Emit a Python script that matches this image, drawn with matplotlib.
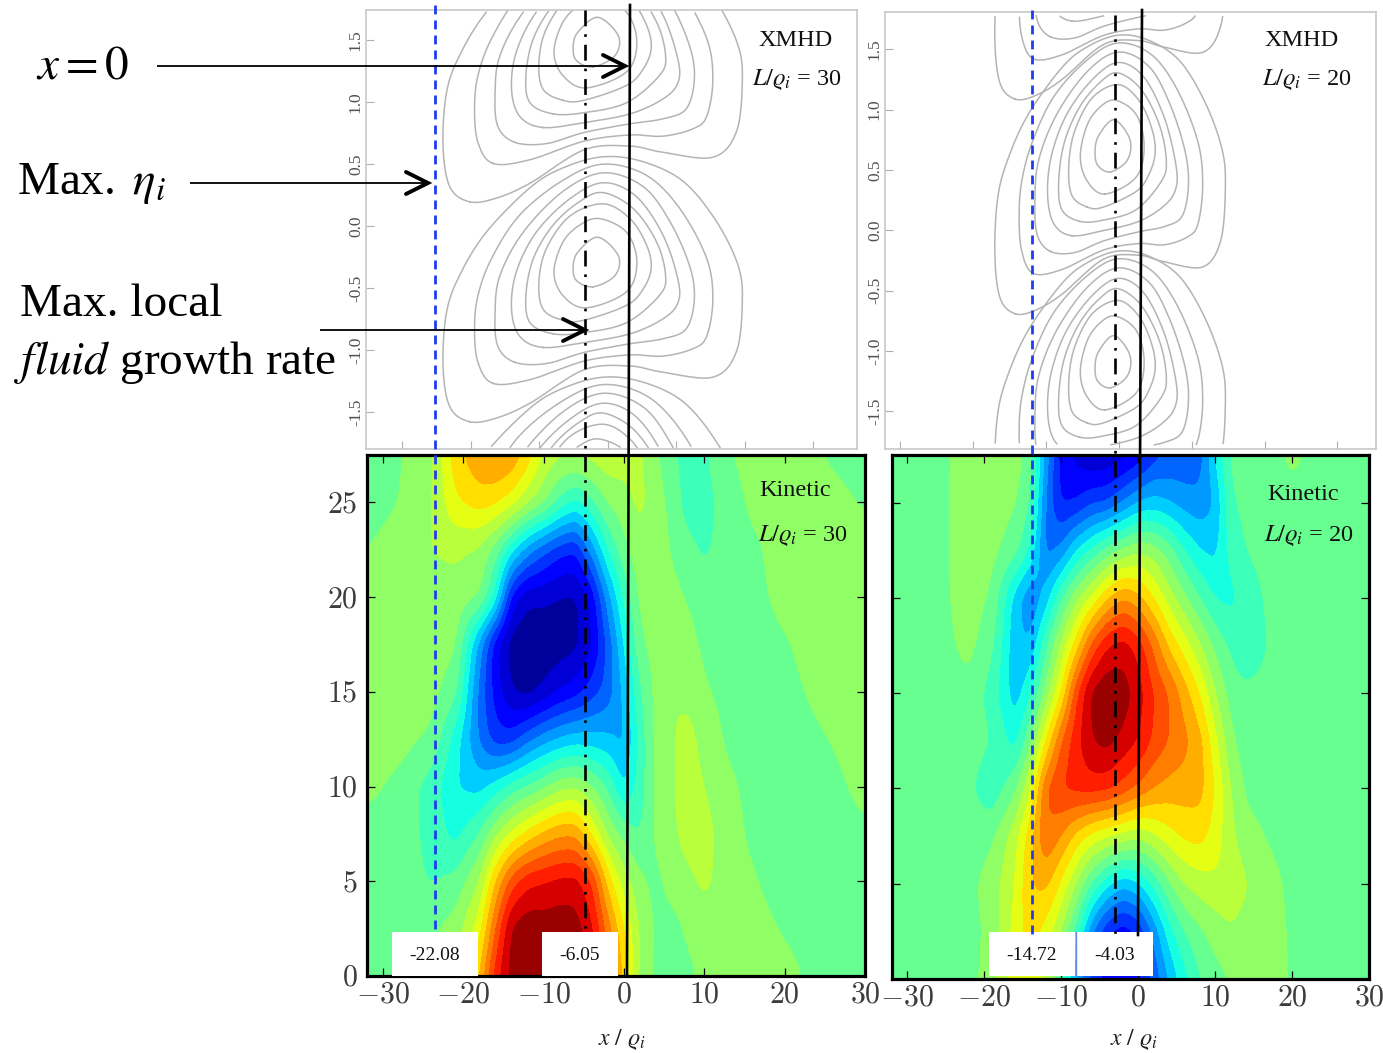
import numpy as np
import matplotlib
matplotlib.use('Agg')
import matplotlib.pyplot as plt
from matplotlib.patches import Rectangle

plt.rcParams['font.family'] = ['Liberation Serif', 'DejaVu Serif']
plt.rcParams['mathtext.fontset'] = 'stix'

W, H = 1383, 1053

# kinetic fields, in colour band units (0 is the green / yellow-green boundary)
kin_y = [0, 2.5, 5, 7.5, 10, 12.5, 15, 17.5, 20, 22.5, 25, 27.5]
kin30_x = [-32, -28, -24, -21, -18, -16, -14, -12, -10, -8, -6, -4, -2, 0, 2, 4, 6, 8, 10, 13, 16, 20, 25, 30]
kin30 = [
    [-.5, -.5, -.3, .5, 4, 7.5, 9.4, 9.9, 9.9, 9.9, 9.7, 8.7, 6, 3.8, .6, -.2, -.5, -.3, .3, .5, .5, .3, -.4, -.4],
    [-.5, -.5, -.1, .4, 2.5, 6, 9.2, 9.8, 9.6, 9.7, 9.5, 8.2, 5.5, 3, .8, -.2, -.4, .2, .6, .6, .4, -.1, -.5, -.5],
    [-.5, -.5, -1.1, -.7, 1, 4, 6.5, 7.7, 8, 8.3, 8.4, 7, 3.5, 1.5, .2, -.3, .4, .8, 1.2, .5, .1, -.5, -.5, -.4],
    [-.5, -.5, -1.3, -2.4, -1, .8, 2.2, 3.3, 4.2, 4.8, 4.8, 2.8, .8, -.4, -1.1, .2, .8, 1.4, 1.4, .4, -.2, -.5, -.5, -.2],
    [.3, -.3, -1.5, -3, -3.4, -2.6, -1.6, -.9, -.2, .7, .9, .1, -1.2, -3.2, -1.5, .2, .9, 1.5, 1, .2, -.3, -.5, -.4, .3],
    [.5, .4, -.2, -2.5, -5.2, -6.6, -6.6, -5.4, -4.5, -3.9, -3.5, -3.6, -3.8, -4.3, -1.6, .3, .9, 1.4, .6, -.2, -.4, -.5, -.05, .5],
    [.5, .5, .4, -.7, -5.4, -7.5, -9, -9.5, -8.8, -8, -7.5, -6.5, -5.6, -3.8, -1.1, .3, 1, .7, .1, -.3, -.5, -.3, .3, .5],
    [.5, .5, .5, .2, -4.5, -7.8, -9.6, -9.9, -9.8, -9.6, -9.3, -8.2, -5.8, -3, -.2, .4, .6, .3, -.2, -.4, -.5, -.1, .5, .5],
    [.5, .5, .6, .6, .1, -2.4, -7.5, -8.8, -8.8, -9.1, -9.2, -7.8, -4.5, -1.8, .3, .5, .3, -.1, -.4, -.5, -.3, .3, .5, .5],
    [0, .5, 1, 1.2, .8, -.5, -2.8, -4.6, -5.8, -6.7, -7, -4.6, -2, -.3, .6, .5, -.1, -.7, -1.2, -.5, -.2, .4, .5, .4],
    [-.5, 0, .9, 2.8, 3.5, 3.2, 2.5, 1.2, .2, -1.3, -2.3, -1.2, .1, .6, 1.3, .4, -.3, -1.6, -1.4, -.5, .2, .5, .4, -.1],
    [-.5, -.1, .7, 3.6, 4.8, 5.2, 4.8, 3.6, 1.8, 1.2, 1.2, 1.4, 1.7, 1.5, 1.2, .1, -.7, -1.7, -1.2, -.1, .4, .5, -.05, -.5],
]
kin20_x = [-32, -26, -22, -19, -16, -14, -12, -10, -8, -6, -4, -2, 0, 2, 4, 6, 8, 10, 12, 14, 17, 20, 25, 30]
kin20 = [
    [-.5, -.5, -.5, .7, 2.5, 2.8, 1.5, -1.5, -4.5, -6.5, -7.5, -8, -7.3, -5.8, -4, -2.4, -1.1, -.4, 0, .4, .4, -.1, -.5, -.5],
    [-.5, -.5, -.4, .3, 2.4, 3.5, 2.6, 1, -1.5, -5, -7, -7.7, -7, -4.8, -2.5, -1, -.2, .4, .9, .6, .3, -.1, -.5, -.5],
    [-.5, -.5, -.3, .5, 2, 4, 4.3, 2.8, .9, -1.2, -2.8, -3.8, -3.2, -1.8, -.2, 1, 1.5, 1.8, 1.7, 1.1, .3, -.2, -.5, -.5],
    [-.5, -.5, -.6, -.2, 1.6, 3.6, 6, 5, 3.6, 2.6, 2, 1.6, 1.2, 1.8, 2.6, 3.2, 3.4, 2.5, 1.3, .4, -.1, -.4, -.5, -.5],
    [-.5, -.5, -.8, -1.8, -.3, 2, 6, 7.1, 7.4, 7.5, 7.3, 6.6, 5.8, 5, 4.6, 4.5, 4.4, 3, 1, -.2, -.5, -.5, -.5, -.5],
    [-.5, -.5, -.5, -1, -2.5, -.2, 3, 6, 7.7, 9, 9.4, 8.7, 8, 6.8, 6, 5.3, 4.4, 2.3, .2, -.5, -.5, -.5, -.5, -.5],
    [-.5, -.5, -.3, -1.5, -3.6, -2.2, .3, 3, 6.8, 9.3, 9.9, 9.6, 8.5, 7, 6, 4.5, 3, 1, -.4, -.7, -.6, -.5, -.5, -.5],
    [-.5, -.4, .3, -.8, -3.8, -3.9, -1.3, 1.2, 3.5, 6.3, 8, 8.5, 7.6, 5.8, 3.8, 2.5, 1.1, -.3, -1.2, -2, -.9, -.5, -.5, -.5],
    [-.5, -.4, .6, -.2, -3.5, -5, -3.6, -1.2, .8, 2.2, 3.9, 5, 4.3, 3, 1.5, .2, -1, -2.1, -2.3, -1.6, -.8, -.5, -.5, -.5],
    [-.5, -.4, .7, .3, -.6, -2.2, -5.4, -4.8, -3, -1.8, -.6, .2, .9, .5, -.5, -2, -3, -3.3, -1.7, -1, -.6, -.5, -.5, -.5],
    [-.5, -.4, .7, .5, .1, -1, -5.2, -7.2, -7, -6.2, -6, -5, -4, -3.6, -4, -4.5, -4.7, -4, -1.2, -.7, -.5, -.3, -.5, -.5],
    [-.5, -.4, .6, 1, .5, -.5, -4.5, -7.6, -8.3, -9, -8.9, -8.5, -7.8, -6.5, -6, -5.8, -5.6, -3, -.8, -.5, -.3, .2, -.5, -.5],
]
band_levels = list(range(-10, 11))

# XMHD eigenmode lobe: each contour read as offsets from the eye centre
lobe_dx = [
    [-18.5, -21.4, -22.4, -21.9, -20, -16.1, -9.7, -4.9, 1, 6.8, 12.7, 17.5, 20.7, 21.3, 20.4, 17, 9.7, 4.9, -1.8, -9.7, -14.6],
    [-15.1, -17.3, -17.8, -17.3, -15.3, -11.2, -4.9, 1, 7.3, 12.2, 16.1, 17, 16.1, 14.1, 9.7, 4.9, -1.8, -9.7],
    [-11.9, -14.4, -14.8, -14.1, -10.7, -4.9, 1, 6.8, 10.7, 13.6, 14.3, 13.1, 9.7, 4.9, -1.8, -7.3],
    [-7.8, -11.2, -12.4, -11.7, -8.8, -3.9, 1, 5.8, 9.7, 11.9, 11.9, 9.7, 4.9, -1.8],
    [-6.3, -9.7, -10.3, -9.2, -6.3, -2.4, 1, 5.4, 8.8, 10.1, 9.2, 4.4, -1.8],
    [-4.9, -7.8, -8.4, -7.3, -3.9, 1, 4.9, 7.3, 8, 6.8, 4.4, -1.8],
    [-1.5, -4.9, -6.2, -4.9, -2.4, .5, 4.4, 5.9, 4.4],
    [-.5, -2.9, -3.4, -2.7, .2, 3.2, 2.7],
]
lobe_dy = [
    [-1.29, -1.17, -.84, -.41, -.11, .24, .6, .76, .85, .81, .65, .33, -.03, -.33, -.73, -.93, -.89, -.84, -.87, -1.14, -1.26],
    [-.98, -.81, -.54, -.27, .03, .38, .66, .79, .7, .43, .03, -.3, -.6, -.7, -.76, -.75, -.8, -.95],
    [-.81, -.68, -.41, -.11, .24, .57, .72, .61, .33, -.03, -.3, -.54, -.62, -.66, -.73, -.82],
    [-.69, -.6, -.38, -.08, .24, .51, .64, .53, .22, -.14, -.33, -.46, -.58, -.65],
    [-.58, -.49, -.27, .03, .3, .49, .56, .43, .16, -.11, -.27, -.49, -.57],
    [-.47, -.38, -.16, .11, .37, .47, .35, .14, -.05, -.22, -.35, -.47],
    [-.37, -.27, -.08, .16, .3, .35, .24, 0, -.24],
    [-.2, -.15, -.04, .08, .2, .05, -.11],
]
eyes30_x = [-1.65, -1.65, -1.65]
eyes30_y = [1.486, -.29, -2.07]
eyes20_x = [-.8, -.8, -.8]
eyes20_y = [2.48, .7, -1.09]

xmhd_yticks = [1.5, 1.0, .5, 0.0, -.5, -1.0, -1.5]
xmhd_xticks = [-30, -20, -10, 0, 10, 20, 30]
kin_xticks = [-30, -20, -10, 0, 10, 20, 30]
kin_yticks = [0, 5, 10, 15, 20, 25]


def axes_px(fig, x0, y0, x1, y1):
    return fig.add_axes([x0 / W, 1 - y1 / H, (x1 - x0) / W, (y1 - y0) / H])


def smooth_field(xn, yn, rows):
    xf = np.arange(xn[0], xn[-1] + .125, .25)
    yf = np.arange(yn[0], yn[-1] + .125, .25)
    z = np.array([np.interp(xf, xn, r) for r in rows])
    z = np.array([np.interp(yf, yn, c) for c in z.T]).T
    k = np.ones(5) / 5
    for _ in range(2):
        z = np.pad(z, 2, mode='edge')
        z = np.apply_along_axis(lambda m: np.convolve(m, k, mode='same'), 0, z)
        z = np.apply_along_axis(lambda m: np.convolve(m, k, mode='same'), 1, z)
        z = z[2:-2, 2:-2]
    return xf, yf, z


def closed_spline(px, py, n=14):
    p = np.column_stack([px, py])
    t = np.linspace(0, 1, n, endpoint=False)[:, None]
    out = []
    for i in range(len(p)):
        a, b, c, d = p[i - 1], p[i], p[(i + 1) % len(p)], p[(i + 2) % len(p)]
        out.append(.5 * (2 * b + (c - a) * t + (2 * a - 5 * b + 4 * c - d) * t ** 2 + (3 * b - a - 3 * c + d) * t ** 3))
    out = np.vstack(out + [out[0][:1]])
    return out[:, 0], out[:, 1]


def xmhd_panel(ax, eyes_x, eyes_y, xscale, yscale, ymin, ymax):
    for cx, cy in zip(eyes_x, eyes_y):
        for dx, dy in zip(lobe_dx, lobe_dy):
            sx, sy = closed_spline(dx, dy)
            xs = cx + xscale * sx
            ys = cy + yscale * sy
            ys = np.where((ys > ymax) | (ys < ymin), np.nan, ys)
            ax.plot(xs, ys, color='#b4b4b4', lw=1.1)
    ax.set_yticks(xmhd_yticks)
    ax.set_yticklabels([f'{v:.1f}' for v in xmhd_yticks], rotation=90, va='center',
                       fontsize=12.5, color='#505050')
    ax.set_xticks(xmhd_xticks)
    ax.set_xticklabels([])
    ax.tick_params(direction='in', length=6, width=.8, color='#b0b0b0', pad=1.5)
    for s in ax.spines.values():
        s.set_color('#c4c4c4')
        s.set_linewidth(1.1)


def kinetic_panel(ax, xn, rows, show_y):
    xf, yf, z = smooth_field(xn, kin_y, rows)
    ax.contourf(xf, yf, z, levels=band_levels, cmap='jet', extend='both')
    ax.set_xlim(-32, 30)
    ax.set_ylim(0, 27.5)
    ax.set_xticks(kin_xticks)
    ax.set_xticklabels([f'${v}$' for v in kin_xticks], fontsize=21.5, color='#3c3c3c', math_fontfamily='cm')
    ax.set_yticks(kin_yticks)
    if show_y:
        ax.set_yticklabels([f'${v}$' for v in kin_yticks], fontsize=21.5, color='#3c3c3c', math_fontfamily='cm')
    else:
        ax.set_yticklabels([])
    ax.tick_params(direction='in', length=6, width=.9, top=True, right=True, pad=5)
    ax.tick_params(axis='y', pad=7)
    for s in ax.spines.values():
        s.set_linewidth(2.3)


fig = plt.figure(figsize=(W / 100, H / 100), dpi=100)

ax1 = axes_px(fig, 366, 10, 857, 449)
ax1.set_xlim(-35.3, 36.4)
ax1.set_ylim(-1.8, 1.745)
xmhd_panel(ax1, eyes30_x, eyes30_y, 1.0, 1.0, -1.79, 1.745)

ax2 = axes_px(fig, 885, 12, 1376, 449)
ax2.set_xlim(-32.1, 35.3)
ax2.set_ylim(-1.814, 1.81)
xmhd_panel(ax2, eyes20_x, eyes20_y, .724, 1.08, -1.78, 1.78)

ax3 = axes_px(fig, 367, 455, 865, 976)
kinetic_panel(ax3, kin30_x, kin30, True)
ax4 = axes_px(fig, 892, 455, 1369, 979)
kinetic_panel(ax4, kin20_x, kin20, False)

# overlay in picture pixels for the guide lines, arrows and notes
ov = fig.add_axes([0, 0, 1, 1], zorder=10)
ov.set_xlim(0, W)
ov.set_ylim(H, 0)
ov.axis('off')

for x, y0, y1 in [(435, 5, 935), (1032, 10, 935)]:
    ov.plot([x, x], [y0, y1], color='#1f3cf0', lw=2.0, dashes=(3.2, 2.2))
for x, y0, y1 in [(585, 10, 935), (1115, 15, 935)]:
    ov.plot([x, x], [y0, y1], color='k', lw=1.9, dashes=(6, 3, 1, 3))
ov.plot([630, 627], [5, 976], color='k', lw=1.9)
ov.plot([1142, 1138], [10, 935], color='k', lw=1.9)

for x0, x1, y in [(157, 625, 66), (190, 428, 183), (320, 585, 330)]:
    ov.plot([x0, x1], [y, y], color='k', lw=1.3, solid_capstyle='butt')
    ov.plot([x1 - 22, x1, x1 - 22], [y - 11, y, y + 11], color='k', lw=2.8,
            solid_capstyle='round', solid_joinstyle='miter')

for x0, x1, s in [(392, 478, '-22.08'), (542, 618, '-6.05'), (989, 1075, '-14.72'), (1077, 1153, '-4.03')]:
    ov.add_patch(Rectangle((x0, 932), x1 - x0, 44, fc='white', ec='none'))
    ov.text((x0 + x1) / 2, 955, s, fontsize=14, ha='center', va='center', color='#111111')
ov.plot([1076, 1076], [932, 976], color='#5f8fe8', lw=1)

ov.text(36, 67, r'$x=0$', fontsize=34, va='center', ha='left')
ov.text(17, 184, r'Max. $\,\eta_i$', fontsize=34, va='center', ha='left')
ov.text(20, 305, 'Max. local', fontsize=34, va='center', ha='left')
ov.text(14, 363, r'$\mathit{fluid}$ growth rate', fontsize=34, va='center', ha='left')

for x, y, s in [(796, 40, 'XMHD'), (1302, 40, 'XMHD'), (795, 490, 'Kinetic'), (1303, 495, 'Kinetic')]:
    ov.text(x, y, s, fontsize=17.5, ha='center', va='center', color='#111111')
for x, y, s in [(797, 80, 30), (1307, 79, 20), (803, 536, 30), (1309, 536, 20)]:
    ov.text(x, y, rf'$L/\varrho_i$ = {s}', fontsize=17.5, ha='center', va='center', color='#111111')
for x, y in [(622, 1039), (1134, 1039)]:
    ov.text(x, y, r'$x\ /\ \varrho_i$', fontsize=17, ha='center', va='center', color='#222222')

fig.savefig('out.png', dpi=100)
